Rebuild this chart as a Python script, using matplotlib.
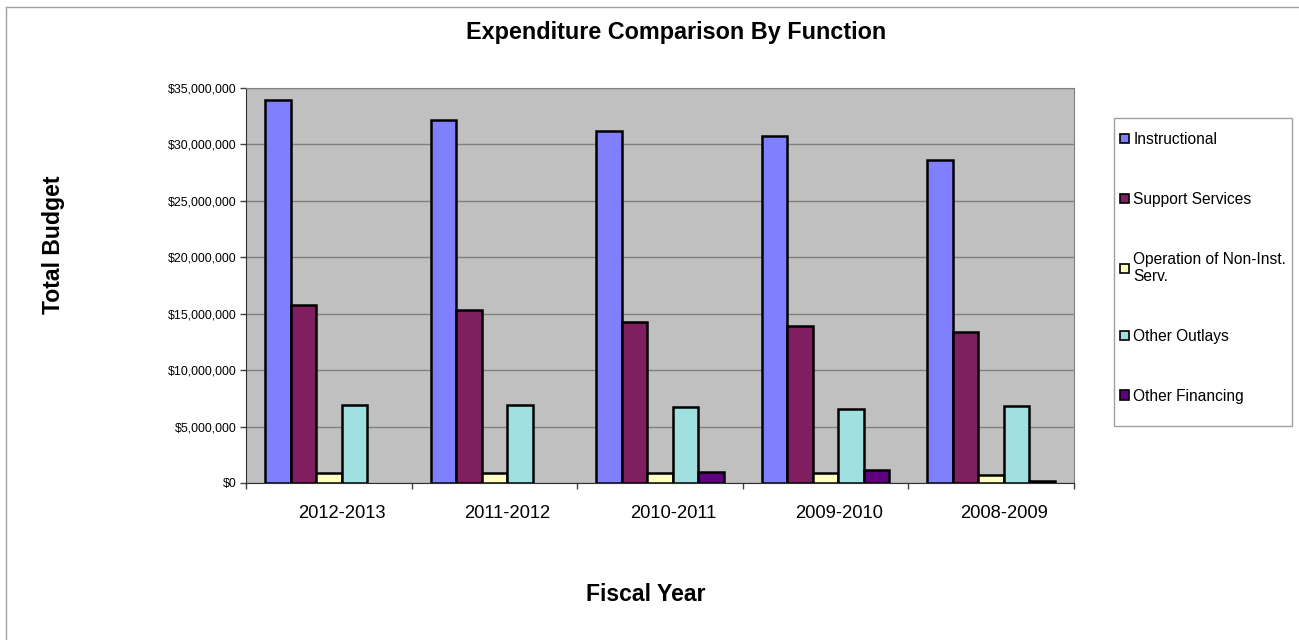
import matplotlib.pyplot as plt
import matplotlib.transforms as mtransforms
from matplotlib.lines import Line2D
from matplotlib.patches import Rectangle
from matplotlib.ticker import FuncFormatter, MultipleLocator
import numpy as np

plt.rcParams['font.family'] = ['Liberation Sans', 'DejaVu Sans']

# Budget by function per fiscal year (dollars)
years = ['2012-2013', '2011-2012', '2010-2011', '2009-2010', '2008-2009']
instructional = [33_900_000, 32_180_000, 31_200_000, 30_710_000, 28_600_000]
support_services = [15_750_000, 15_320_000, 14_260_000, 13_880_000, 13_370_000]
non_inst_ops = [860_000, 900_000, 850_000, 850_000, 720_000]
other_outlays = [6_900_000, 6_900_000, 6_700_000, 6_600_000, 6_800_000]
other_financing = [0, 0, 1_000_000, 1_180_000, 150_000]

series = [
    ('Instructional', instructional, '#8080FF'),
    ('Support Services', support_services, '#7F1F5F'),
    ('Operation of Non-Inst.\nServ.', non_inst_ops, '#FFFFC0'),
    ('Other Outlays', other_outlays, '#A0E0E0'),
    ('Other Financing', other_financing, '#600080'),
]

W, H = 1299, 640
fig = plt.figure(figsize=(W / 100, H / 100), dpi=100)
ax = fig.add_axes([246 / W, 1 - 483 / H, (1074 - 246) / W, (483 - 88) / H])
ax.set_facecolor('#C0C0C0')

x = np.arange(len(years))
width = 0.154
for i, (name, vals, color) in enumerate(series):
    # empty bars get no outline
    edges = ['black' if v > 0 else 'none' for v in vals]
    ax.bar(x + (i - 2) * width, vals, width, color=color, edgecolor=edges,
           linewidth=1.8, label=name, zorder=3)

ax.set_xlim(-0.5, len(years) - 0.5)
ax.set_ylim(0, 35_000_000)
ax.yaxis.set_major_locator(MultipleLocator(5_000_000))
ax.yaxis.set_major_formatter(FuncFormatter(lambda v, _: f'${v:,.0f}'))
ax.grid(axis='y', color='#808080', linewidth=1, zorder=1)
ax.tick_params(axis='y', labelsize=8.9, length=4, width=1, pad=3, color='#404040')

# category labels at centers, tick marks at the group boundaries
ax.set_xticks(x)
ax.set_xticklabels(years, fontsize=13.2)
ax.tick_params(axis='x', which='major', length=0, pad=16)
ax.set_xticks(np.arange(len(years) + 1) - 0.5, minor=True)
ax.tick_params(axis='x', which='minor', length=4, width=1, color='#404040')
shift = mtransforms.ScaledTranslation(13 / 100, 0, fig.dpi_scale_trans)
for lbl in ax.get_xticklabels():
    lbl.set_transform(lbl.get_transform() + shift)

for side in ['top', 'right']:
    ax.spines[side].set_color('#808080')
for side in ['left', 'bottom']:
    ax.spines[side].set_color('#303030')

# titles
fig.text(676 / W, 1 - 39 / H, 'Expenditure Comparison By Function',
         fontsize=16.8, fontweight='bold', ha='center', va='baseline')
fig.text(54 / W, 1 - 245 / H, 'Total Budget', fontsize=16.6,
         fontweight='bold', rotation=90, ha='center', va='center')
fig.text(646 / W, 1 - 601 / H, 'Fiscal Year', fontsize=16.6,
         fontweight='bold', ha='center', va='baseline')

# legend with its own box
fig.add_artist(Rectangle((1114 / W, 1 - 426 / H), 178 / W, 308 / H,
                         transform=fig.transFigure, facecolor='white',
                         edgecolor='#A0A0A0', linewidth=1, zorder=-1))
leg = ax.legend(loc='upper left', bbox_to_anchor=(1120 / W, 1 - 132 / H),
                bbox_transform=fig.transFigure, frameon=False, fontsize=11.2,
                borderpad=0, borderaxespad=0, handlelength=0.55,
                handleheight=0.55, handletextpad=0.3, labelspacing=2.88)
for h in leg.legend_handles:
    h.set_linewidth(1.2)
    h.set_edgecolor('black')

# outer chart border
fig.add_artist(Line2D([6 / W, 1.0], [1 - 7 / H, 1 - 7 / H],
                      transform=fig.transFigure, color='#A0A0A0', linewidth=1))
fig.add_artist(Line2D([6 / W, 6 / W], [0.0, 1 - 7 / H],
                      transform=fig.transFigure, color='#A0A0A0', linewidth=1))

fig.savefig('out.png', dpi=100)
